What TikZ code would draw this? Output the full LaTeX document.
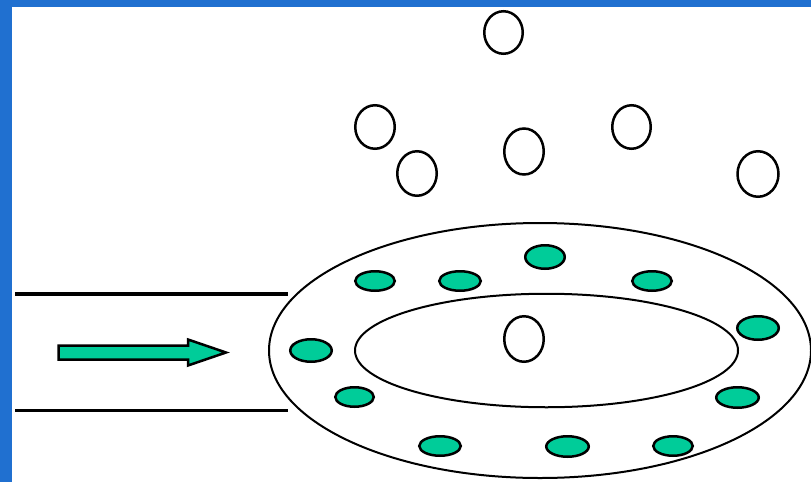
\documentclass[tikz,border=0pt]{standalone}
\usetikzlibrary{shapes.geometric}
\definecolor{dropteal}{RGB}{0,204,153}
\definecolor{frameblue}{RGB}{32,112,208}
\begin{document}
\begin{tikzpicture}[x=1pt,y=-1pt,
  bubble/.style={ellipse,draw=black,line width=2.5pt,fill=white,inner sep=0pt},
  drop/.style={ellipse,draw=black,line width=2.5pt,fill=dropteal,inner sep=0pt},
  ring/.style={draw=black,line width=2pt},
  wall/.style={draw=black,line width=3.5pt},
  flowarrow/.style={draw=black,line width=2.5pt,fill=dropteal,line join=miter},
]
\useasboundingbox (0,0) rectangle (811,482);
\fill[white] (0,0) rectangle (811,482);
\fill[frameblue] (0,0) rectangle (811,7);
\fill[frameblue] (0,0) rectangle (12,482);

% channel walls
\coordinate (wt1) at (15,294);
\coordinate (wt2) at (288,294);
\coordinate (wb1) at (15,410.3);
\coordinate (wb2) at (288,410.3);
\draw[wall] (wt1) -- (wt2);
\draw[wall] (wb1) -- (wb2);

% flow arrow
\draw[flowarrow] (58.5,345.5) -- (188,345.5) -- (188,339.5) -- (226,352.5)
  -- (188,365.5) -- (188,359.5) -- (58.5,359.5) -- cycle;

% rings
\draw[ring] (540,350.5) ellipse [x radius=271, y radius=127.5];
\draw[ring] (546.5,350.5) ellipse [x radius=191.5, y radius=56.75];

% hollow bubbles
\node[bubble,minimum width=38.5pt,minimum height=42.5pt] (ba) at (503.5,32.5) {};
\node[bubble,minimum width=39.5pt,minimum height=43.5pt] (bb) at (375,127) {};
\node[bubble,minimum width=39.5pt,minimum height=44.5pt] (bc) at (417,173.5) {};
\node[bubble,minimum width=39.5pt,minimum height=46pt] (bd) at (524,151.5) {};
\node[bubble,minimum width=38.5pt,minimum height=43.5pt] (be) at (631.5,127) {};
\node[bubble,minimum width=41pt,minimum height=45.5pt] (bf) at (758,174) {};
\node[bubble,minimum width=39.5pt,minimum height=45.5pt] (bg) at (524,339) {};

% teal drops
\node[drop,minimum width=39.5pt,minimum height=19.5pt] (t1) at (375,281) {};
\node[drop,minimum width=41.5pt,minimum height=19.5pt] (t2) at (460,281) {};
\node[drop,minimum width=39.5pt,minimum height=23.5pt] (t3) at (545,257) {};
\node[drop,minimum width=41.5pt,minimum height=22.5pt] (t4) at (311,350.5) {};
\node[drop,minimum width=38.5pt,minimum height=19.5pt] (t5) at (354.5,397) {};
\node[drop,minimum width=41.5pt,minimum height=19.5pt] (t6) at (440,446) {};
\node[drop,minimum width=42.5pt,minimum height=20.5pt] (t7) at (567.5,446.5) {};
\node[drop,minimum width=39.5pt,minimum height=19.5pt] (t8) at (652,281) {};
\node[drop,minimum width=41.5pt,minimum height=23.5pt] (t9) at (758,328) {};
\node[drop,minimum width=42.5pt,minimum height=20.5pt] (t10) at (737.5,397.5) {};
\node[drop,minimum width=39.5pt,minimum height=19.5pt] (t11) at (673,446) {};
\end{tikzpicture}
\end{document}
